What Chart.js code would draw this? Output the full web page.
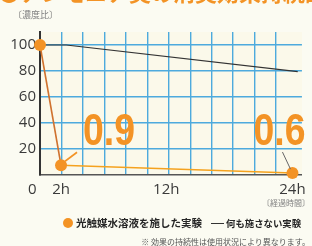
<!DOCTYPE html>
<html lang="ja">
<head>
<meta charset="UTF-8">
<title>効果持続結果</title>
<script src="https://cdn.jsdelivr.net/npm/chart.js@4.4.0/dist/chart.umd.min.js"></script>
<style>
  body { margin: 0; background: #fbfbf2; }
  #wrap { position: relative; width: 312px; height: 246px; overflow: hidden; font-family: "Noto Sans CJK JP", sans-serif; }
  #wrap canvas { position: absolute; left: 0; top: 0; }
  .txt { position: absolute; white-space: nowrap; }
  #title { left: -2px; top: -25px; font-size: 22px; font-weight: bold; color: #f39325; }
  #yunit { left: 13px; top: 8px; font-size: 9px; color: #808080; }
  #xunit { right: 2px; top: 197px; font-size: 8px; color: #808080; }
  #leg { left: 63px; top: 215px; font-size: 10.5px; font-weight: bold; color: #262626; }
  #leg .dot { display: inline-block; width: 10px; height: 10px; border-radius: 50%; background: #f39325; vertical-align: -1px; margin-right: 3px; }
  #leg .dash { display: inline-block; width: 13px; border-top: 1.5px solid #333; vertical-align: 3px; margin: 0 2px 0 9px; }
  #leg .two { font-size: 9.4px; }
  #note { right: 2px; top: 236px; font-size: 8px; color: #555; }
</style>
</head>
<body>
<div id="wrap">
  <canvas id="chart" width="312" height="246"></canvas>
  <div class="txt" id="title">●アンモニア臭の消臭効果持続試験結果</div>
  <div class="txt" id="yunit">〔濃度比〕</div>
  <div class="txt" id="xunit">〔経過時間〕</div>
  <div class="txt" id="leg"><span class="dot"></span>光触媒水溶液を施した実験<span class="dash"></span><span class="two">何も施さない実験</span></div>
  <div class="txt" id="note">※ 効果の持続性は使用状況により異なります。</div>
</div>

<script>
// values
const photoTimes = [0, 2, 24];
const photoValues = [100, 7.5, 1.5];
const photoNotes = ['', '0.9', '0.6'];
const plainTimes = [0, 2.5, 24.5];
const plainValues = [100, 100, 79.5];
const xTickValues = [0, 2, 12, 24];
const xTickLabels = ['0    ', '2h', '12h', '24h'];
const yTickValues = [0, 20, 40, 60, 80, 100];

const ORANGE = '#f39325';
const BLUE = '#4daadd';

const photoData = photoTimes.map((t, i) => ({ x: t, y: photoValues[i] }));
const plainData = plainTimes.map((t, i) => ({ x: t, y: plainValues[i] }));

const notesPlugin = {
  id: 'notes',
  beforeDraw(chart) {
    const a = chart.chartArea;
    const ctx = chart.ctx;
    ctx.save();
    ctx.fillStyle = '#fbf9ea';
    ctx.fillRect(a.left, a.top, a.right - a.left, a.bottom - a.top);
    ctx.restore();
  },
  afterDatasetsDraw(chart) {
    const ctx = chart.ctx;
    const pts = chart.getDatasetMeta(0).data;
    ctx.save();
    // pointer lines
    const p1 = pts[1], p2 = pts[2];
    ctx.lineWidth = 1.6;
    ctx.strokeStyle = ORANGE;
    ctx.beginPath();
    ctx.moveTo(p1.x + 4, p1.y - 4);
    ctx.lineTo(p1.x + 16, p1.y - 13);
    ctx.stroke();
    ctx.lineWidth = 1;
    ctx.strokeStyle = '#666';
    ctx.beginPath();
    ctx.moveTo(p2.x - 2, p2.y - 4);
    ctx.lineTo(p2.x - 10, p2.y - 21);
    ctx.stroke();
    // big numbers
    ctx.fillStyle = ORANGE;
    ctx.font = 'bold 44px "Liberation Sans", Arial, sans-serif';
    ctx.textBaseline = 'alphabetic';
    ctx.save();
    ctx.translate(p1.x + 22, p1.y - 20);
    ctx.scale(0.85, 1);
    ctx.textAlign = 'left';
    ctx.fillText(photoNotes[1], 0, 0);
    ctx.restore();
    ctx.save();
    ctx.translate(p2.x + 13, p2.y - 28);
    ctx.scale(0.85, 1);
    ctx.textAlign = 'right';
    ctx.fillText(photoNotes[2], 0, 0);
    ctx.restore();
    ctx.restore();
  }
};

new Chart(document.getElementById('chart'), {
  type: 'line',
  data: {
    datasets: [
      {
        label: '光触媒水溶液を施した実験',
        data: photoData,
        borderWidth: 1.6,
        borderColor: '#f5a21e',
        segment: {
          borderColor: c => c.p0DataIndex === 0 ? '#d0722e' : '#f5a21e'
        },
        pointRadius: 6,
        pointBackgroundColor: ORANGE,
        pointBorderWidth: 0,
        clip: false,
        order: 0
      },
      {
        label: '何も施さない実験',
        data: plainData,
        borderWidth: 1.2,
        borderColor: '#333',
        pointRadius: 0,
        clip: false,
        order: 1
      }
    ]
  },
  options: {
    responsive: false,
    animation: false,
    layout: { padding: { top: 32, right: 2, left: 0, bottom: 0 } },
    plugins: { legend: { display: false }, tooltip: { enabled: false } },
    scales: {
      x: {
        type: 'linear', min: 0, max: 24.9,
        afterBuildTicks: s => { s.ticks = xTickValues.map(v => ({ value: v })); },
        afterFit: s => { s.height = 71; },
        grid: { display: false, drawTicks: false },
        border: { color: '#555', width: 1.5 },
        ticks: {
          padding: 6,
          maxRotation: 0,
          autoSkip: false,
          color: '#3a3a3a',
          font: { family: 'Open Sans', size: 15 },
          callback: (v, i) => xTickLabels[i]
        }
      },
      xg: {
        type: 'linear', position: 'top', min: 0, max: 24.9,
        afterBuildTicks: s => {
          const t = [];
          for (let k = 0; k < 12; k++) t.push({ value: k * 2.04 });
          s.ticks = t;
        },
        afterFit: s => { s.height = 0; },
        grid: {
          drawTicks: false,
          lineWidth: 1.4,
          color: c => c.index === 0 ? 'transparent' : BLUE
        },
        border: { display: false },
        ticks: { display: false }
      },
      y: {
        min: 0, max: 110,
        afterBuildTicks: s => { s.ticks = yTickValues.map(v => ({ value: v })); },
        afterFit: s => { s.width = 40; },
        grid: {
          drawTicks: false,
          lineWidth: 1.4,
          color: c => c.tick && c.tick.value === 0 ? 'transparent' : BLUE
        },
        border: { color: '#333', width: 2 },
        ticks: {
          padding: 4,
          color: '#3a3a3a',
          font: { family: 'Open Sans', size: 15 },
          callback: v => v === 0 ? '' : v
        }
      }
    }
  },
  plugins: [notesPlugin]
});
</script>
</body>
</html>
